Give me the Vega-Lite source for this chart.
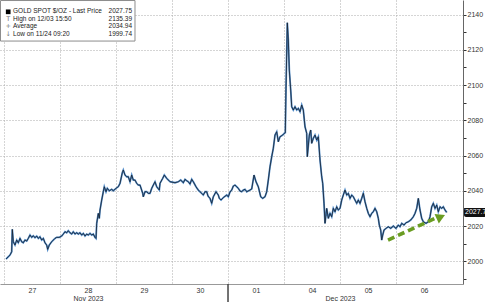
{
  "$schema": "https://vega.github.io/schema/vega-lite/v6.json",
  "width": 463,
  "height": 284,
  "autosize": {"type": "none"},
  "padding": {"left": 0, "top": 0, "right": 22, "bottom": 18},
  "background": "white",
  "config": {"view": {"stroke": null}, "font": "Liberation Sans"},
  "datasets": {
    "gold": [
      {"t":0.0357,"price":2001.26},{"t":0.0768,"price":2002.56},{"t":0.1071,"price":2003.53},{"t":0.1375,"price":2005.40},{"t":0.1482,"price":2018.12},{"t":0.1661,"price":2011.08},{"t":0.1964,"price":2009.21},{"t":0.2268,"price":2012.04},{"t":0.2554,"price":2010.51},{"t":0.2857,"price":2013.01},{"t":0.3161,"price":2011.08},{"t":0.3446,"price":2010.51},{"t":0.375,"price":2012.04},{"t":0.4054,"price":2011.48},{"t":0.4339,"price":2013.01},{"t":0.4643,"price":2014.88},{"t":0.4946,"price":2013.58},{"t":0.5232,"price":2014.49},{"t":0.5536,"price":2013.35},{"t":0.5839,"price":2014.32},{"t":0.6125,"price":2013.01},{"t":0.6429,"price":2013.92},{"t":0.6732,"price":2012.04},{"t":0.7018,"price":2013.01},{"t":0.7321,"price":2010.51},{"t":0.7625,"price":2009.21},{"t":0.7804,"price":2006.76},{"t":0.8089,"price":2009.21},{"t":0.8518,"price":2011.08},{"t":0.8804,"price":2012.04},{"t":0.9107,"price":2013.01},{"t":0.9411,"price":2013.58},{"t":0.9875,"price":2013.58},
      {"t":1.0304,"price":2014.32},{"t":1.0589,"price":2015.45},{"t":1.0893,"price":2016.76},{"t":1.1196,"price":2016.19},{"t":1.1482,"price":2017.32},{"t":1.1786,"price":2016.19},{"t":1.2089,"price":2015.45},{"t":1.2375,"price":2016.76},{"t":1.2679,"price":2015.45},{"t":1.2982,"price":2016.19},{"t":1.3268,"price":2015.45},{"t":1.3571,"price":2016.19},{"t":1.3875,"price":2014.88},{"t":1.4161,"price":2015.85},{"t":1.4464,"price":2014.32},{"t":1.4768,"price":2015.45},{"t":1.5054,"price":2014.88},{"t":1.5357,"price":2015.85},{"t":1.5661,"price":2014.88},{"t":1.5946,"price":2015.45},{"t":1.625,"price":2013.58},{"t":1.6429,"price":2013.01},{"t":1.6554,"price":2021.53},{"t":1.6839,"price":2027.20},{"t":1.7018,"price":2024.36},{"t":1.7143,"price":2029.08},{"t":1.7446,"price":2034.75},{"t":1.7732,"price":2039.47},{"t":1.7911,"price":2042.30},{"t":1.8214,"price":2039.47},{"t":1.8446,"price":2041.40},{"t":1.8804,"price":2040.03},{"t":1.9232,"price":2040.83},{"t":1.9518,"price":2040.03},
      {"t":2.0,"price":2041.40},{"t":2.0411,"price":2042.30},{"t":2.0714,"price":2044.23},{"t":2.1125,"price":2050.25},{"t":2.1304,"price":2051.79},{"t":2.1607,"price":2048.95},{"t":2.1911,"price":2047.98},{"t":2.2196,"price":2047.98},{"t":2.25,"price":2045.14},{"t":2.2804,"price":2048.95},{"t":2.3089,"price":2046.11},{"t":2.3393,"price":2046.11},{"t":2.3696,"price":2044.23},{"t":2.3982,"price":2043.27},{"t":2.4286,"price":2043.27},{"t":2.4768,"price":2038.56},{"t":2.4875,"price":2036.63},{"t":2.5179,"price":2039.47},{"t":2.5482,"price":2039.47},{"t":2.5768,"price":2038.56},{"t":2.6071,"price":2038.56},{"t":2.6375,"price":2041.40},{"t":2.6661,"price":2043.27},{"t":2.6964,"price":2045.14},{"t":2.7268,"price":2042.30},{"t":2.7732,"price":2040.43},{"t":2.7857,"price":2044.23},{"t":2.8339,"price":2047.07},{"t":2.8625,"price":2048.95},{"t":2.9054,"price":2047.07},{"t":2.9643,"price":2045.14},
      {"t":3.0536,"price":2044.58},{"t":3.1125,"price":2045.14},{"t":3.1554,"price":2046.11},{"t":3.2018,"price":2044.58},{"t":3.2321,"price":2046.51},{"t":3.2625,"price":2045.71},{"t":3.2911,"price":2045.14},{"t":3.3214,"price":2043.84},{"t":3.3518,"price":2046.51},{"t":3.3804,"price":2045.14},{"t":3.4286,"price":2042.30},{"t":3.4696,"price":2040.43},{"t":3.5,"price":2039.47},{"t":3.5304,"price":2038.56},{"t":3.5589,"price":2037.59},{"t":3.5893,"price":2039.47},{"t":3.6196,"price":2039.47},{"t":3.6429,"price":2037.03},{"t":3.6786,"price":2035.72},{"t":3.7089,"price":2032.88},{"t":3.7375,"price":2036.63},{"t":3.7857,"price":2039.47},{"t":3.8268,"price":2037.59},{"t":3.8446,"price":2035.72},{"t":3.875,"price":2034.75},{"t":3.9161,"price":2036.17},{"t":3.9768,"price":2037.59},
      {"t":4.0054,"price":2036.63},{"t":4.0357,"price":2039.30},{"t":4.0661,"price":2040.43},{"t":4.0946,"price":2042.70},{"t":4.125,"price":2043.27},{"t":4.1554,"price":2042.30},{"t":4.1839,"price":2041.40},{"t":4.2143,"price":2039.86},{"t":4.2446,"price":2039.47},{"t":4.2732,"price":2040.43},{"t":4.3036,"price":2040.83},{"t":4.3339,"price":2039.47},{"t":4.3929,"price":2040.43},{"t":4.4232,"price":2041.00},{"t":4.4643,"price":2048.95},{"t":4.5,"price":2045.14},{"t":4.5411,"price":2042.30},{"t":4.5839,"price":2036.63},{"t":4.6196,"price":2035.72},{"t":4.6607,"price":2036.63},{"t":4.6911,"price":2039.47},{"t":4.7196,"price":2046.11},{"t":4.75,"price":2053.66},{"t":4.7804,"price":2059.34},{"t":4.8089,"price":2064.11},{"t":4.8393,"price":2071.66},{"t":4.8696,"price":2073.53},{"t":4.8982,"price":2067.85},{"t":4.9286,"price":2070.69},{"t":4.9768,"price":2071.66},{"t":5.0054,"price":2072.62},{"t":5.0232,"price":2072.96},
      {"t":5.0357,"price":2098.17},{"t":5.0589,"price":2135.39},{"t":5.0768,"price":2125.59},{"t":5.0946,"price":2108.56},{"t":5.1196,"price":2097.20},{"t":5.1375,"price":2087.72},{"t":5.1661,"price":2085.85},{"t":5.1964,"price":2087.72},{"t":5.2268,"price":2085.85},{"t":5.2554,"price":2086.81},{"t":5.2857,"price":2084.89},{"t":5.3161,"price":2088.69},{"t":5.3446,"price":2085.85},{"t":5.375,"price":2076.37},{"t":5.4054,"price":2072.62},{"t":5.4161,"price":2059.34},{"t":5.4518,"price":2071.66},{"t":5.4768,"price":2074.50},{"t":5.4946,"price":2066.94},{"t":5.5232,"price":2069.78},{"t":5.5536,"price":2071.66},{"t":5.5839,"price":2068.82},{"t":5.6125,"price":2070.69},{"t":5.6429,"price":2057.46},{"t":5.6732,"price":2047.98},{"t":5.6911,"price":2044.23},{"t":5.7143,"price":2032.88},{"t":5.7321,"price":2021.53},{"t":5.7625,"price":2030.04},{"t":5.7911,"price":2024.36},{"t":5.8214,"price":2027.20},{"t":5.8518,"price":2025.27},{"t":5.8804,"price":2030.04},{"t":5.9107,"price":2028.11},{"t":5.9411,"price":2030.95},{"t":5.9696,"price":2029.08},
      {"t":6.0,"price":2030.04},{"t":6.0304,"price":2034.75},{"t":6.0589,"price":2037.59},{"t":6.0893,"price":2040.43},{"t":6.1196,"price":2037.59},{"t":6.1482,"price":2038.56},{"t":6.1786,"price":2035.72},{"t":6.2089,"price":2037.59},{"t":6.2375,"price":2036.63},{"t":6.2679,"price":2034.75},{"t":6.2982,"price":2032.88},{"t":6.3268,"price":2034.75},{"t":6.3571,"price":2032.88},{"t":6.3875,"price":2035.72},{"t":6.4161,"price":2038.56},{"t":6.4464,"price":2033.79},{"t":6.4768,"price":2030.04},{"t":6.5054,"price":2027.20},{"t":6.5357,"price":2025.27},{"t":6.5661,"price":2027.20},{"t":6.5946,"price":2028.11},{"t":6.625,"price":2030.04},{"t":6.6554,"price":2028.11},{"t":6.6839,"price":2024.36},{"t":6.7018,"price":2020.56},{"t":6.7268,"price":2017.72},{"t":6.7446,"price":2012.04},{"t":6.7625,"price":2014.88},{"t":6.7857,"price":2017.72},{"t":6.8214,"price":2018.69},{"t":6.8625,"price":2019.59},{"t":6.9054,"price":2018.69},{"t":6.9518,"price":2019.99},
      {"t":7.0,"price":2018.69},{"t":7.0411,"price":2020.56},{"t":7.0714,"price":2019.59},{"t":7.1018,"price":2021.53},{"t":7.1429,"price":2020.56},{"t":7.1786,"price":2021.87},{"t":7.2196,"price":2022.43},{"t":7.2625,"price":2023.40},{"t":7.3089,"price":2025.27},{"t":7.3393,"price":2027.20},{"t":7.3696,"price":2030.04},{"t":7.3982,"price":2035.72},{"t":7.4286,"price":2029.08},{"t":7.4589,"price":2024.36},{"t":7.4875,"price":2022.43},{"t":7.5357,"price":2021.53},{"t":7.5768,"price":2022.43},{"t":7.6071,"price":2025.27},{"t":7.6375,"price":2030.95},{"t":7.6661,"price":2032.88},{"t":7.6964,"price":2030.04},{"t":7.7268,"price":2031.92},{"t":7.7554,"price":2028.11},{"t":7.7857,"price":2030.95},{"t":7.8161,"price":2030.04},{"t":7.8446,"price":2030.95},{"t":7.875,"price":2029.08},{"t":7.9054,"price":2027.75}
    ],
    "arrow": [
      {"t": 6.857, "price": 2012.05},
      {"t": 7.70, "price": 2024.4}
    ],
    "arrowhead": [
      {"t": 7.80, "price": 2025.2}
    ],
    "last": [
      {"price": 2027.75, "label": "2027.75"}
    ],
    "legend": [
      {"syms": "\nT\n+\n↓", "labels": "GOLD SPOT $/OZ - Last Price\nHigh on 12/03 15:50\nAverage\nLow on 11/24 09:20", "vals": "2027.75\n2135.39\n2034.94\n1999.74"}
    ]
  },
  "layer": [
    {
      "data": {"name": "gold"},
      "mark": {"type": "line", "color": "#3f7fc2", "strokeWidth": 1.8, "opacity": 0.9},
      "encoding": {
        "x": {
          "field": "t", "type": "quantitative",
          "scale": {"domain": [-0.0714, 8.196], "nice": false, "zero": false},
          "axis": {
            "title": null,
            "values": [0, 0.5, 1, 1.5, 2, 2.5, 3, 3.5, 4, 4.5, 5, 5.5, 6, 6.5, 7, 7.5],
            "tickCount": 100,
            "labelExpr": "datum.value == 0.5 ? '27' : datum.value == 1.5 ? ['28', 'Nov 2023'] : datum.value == 2.5 ? '29' : datum.value == 3.5 ? '30' : datum.value == 4.5 ? '01' : datum.value == 5.5 ? '04' : datum.value == 6 ? ['', 'Dec 2023'] : datum.value == 6.5 ? '05' : datum.value == 7.5 ? '06' : ''",
            "grid": true,
            "gridDash": [1, 2],
            "gridColor": "#aaaaaa",
            "gridOpacity": {"condition": {"test": "datum.value % 1 == 0", "value": 1}, "value": 0},
            "ticks": false,
            "domainColor": "#999999",
            "labelFontSize": 7,
            "labelColor": "#333333",
            "labelPadding": 2,
            "labelLineHeight": 8,
            "labelOverlap": false,
            "labelFlush": false,
            "labelBound": false
          }
        },
        "y": {
          "field": "price", "type": "quantitative",
          "scale": {"domain": [1987.1, 2148.3], "nice": false, "zero": false},
          "axis": {
            "title": null,
            "orient": "right",
            "values": [1990, 2000, 2010, 2020, 2030, 2040, 2050, 2060, 2070, 2080, 2090, 2100, 2110, 2120, 2130, 2140],
            "tickCount": 100,
            "labelExpr": "datum.value % 20 == 0 ? format(datum.value, 'd') : ''",
            "grid": true,
            "gridDash": [1, 2],
            "gridColor": "#aaaaaa",
            "gridOpacity": {"condition": {"test": "datum.value % 20 == 0", "value": 1}, "value": 0},
            "tickSize": 3,
            "tickColor": "#333333",
            "domainColor": "#666666",
            "labelFontSize": 7,
            "labelColor": "#333333",
            "labelPadding": 1,
            "labelOverlap": false,
            "labelBound": false
          }
        }
      }
    },
    {
      "data": {"name": "gold"},
      "mark": {"type": "line", "color": "#16202c", "strokeWidth": 0.8},
      "encoding": {
        "x": {"field": "t", "type": "quantitative"},
        "y": {"field": "price", "type": "quantitative"}
      }
    },
    {
      "data": {"name": "arrow"},
      "mark": {"type": "line", "color": "#6a9c22", "strokeWidth": 3.6, "strokeDash": [7, 4], "strokeCap": "butt"},
      "encoding": {
        "x": {"field": "t", "type": "quantitative"},
        "y": {"field": "price", "type": "quantitative"}
      }
    },
    {
      "data": {"name": "arrowhead"},
      "mark": {"type": "point", "shape": "triangle-right", "filled": true, "color": "#6a9c22", "opacity": 1, "size": 110, "angle": -24},
      "encoding": {
        "x": {"field": "t", "type": "quantitative"},
        "y": {"field": "price", "type": "quantitative"}
      }
    },
    {
      "data": {"values": [{}]},
      "mark": {"type": "rule", "color": "#444444", "strokeWidth": 1.5},
      "encoding": {
        "x": {"datum": 4},
        "y": {"datum": 1987.1},
        "y2": {"datum": 1976.5}
      }
    },
    {
      "data": {"values": [{}]},
      "mark": {"type": "rect", "fill": "white", "stroke": "#8c8c8c", "strokeWidth": 1},
      "encoding": {
        "x": {"datum": -0.0625},
        "x2": {"datum": 2.339},
        "y": {"datum": 2148.0},
        "y2": {"datum": 2125.0}
      }
    },
    {
      "data": {"values": [{}]},
      "mark": {"type": "point", "shape": "square", "filled": true, "color": "#000000", "opacity": 1, "size": 22},
      "encoding": {
        "x": {"datum": 0.075},
        "y": {"datum": 2141.6}
      }
    },
    {
      "data": {"name": "legend"},
      "mark": {"type": "text", "fontSize": 6.5, "align": "center", "baseline": "top", "lineBreak": "\n", "lineHeight": 7.55, "color": "#777777", "font": "DejaVu Sans"},
      "encoding": {
        "x": {"datum": 0.075},
        "y": {"datum": 2143.6},
        "text": {"field": "syms"}
      }
    },
    {
      "data": {"name": "legend"},
      "mark": {"type": "text", "fontSize": 6.5, "align": "left", "baseline": "top", "lineBreak": "\n", "lineHeight": 7.55, "color": "#222222"},
      "encoding": {
        "x": {"datum": 0.161},
        "y": {"datum": 2143.6},
        "text": {"field": "labels"}
      }
    },
    {
      "data": {"name": "legend"},
      "mark": {"type": "text", "fontSize": 6.5, "align": "right", "baseline": "top", "lineBreak": "\n", "lineHeight": 7.55, "color": "#222222"},
      "encoding": {
        "x": {"datum": 2.286},
        "y": {"datum": 2143.6},
        "text": {"field": "vals"}
      }
    },
    {
      "data": {"name": "last"},
      "mark": {"type": "rect", "fill": "#111111", "cornerRadius": 2},
      "encoding": {
        "x": {"datum": 8.214},
        "x2": {"datum": 8.62},
        "y": {"datum": 2030.3},
        "y2": {"datum": 2025.2}
      }
    },
    {
      "data": {"name": "last"},
      "mark": {"type": "text", "color": "white", "fontSize": 7, "align": "left", "baseline": "middle", "dx": 1},
      "encoding": {
        "x": {"datum": 8.214},
        "y": {"field": "price", "type": "quantitative"},
        "text": {"field": "label"}
      }
    }
  ]
}
